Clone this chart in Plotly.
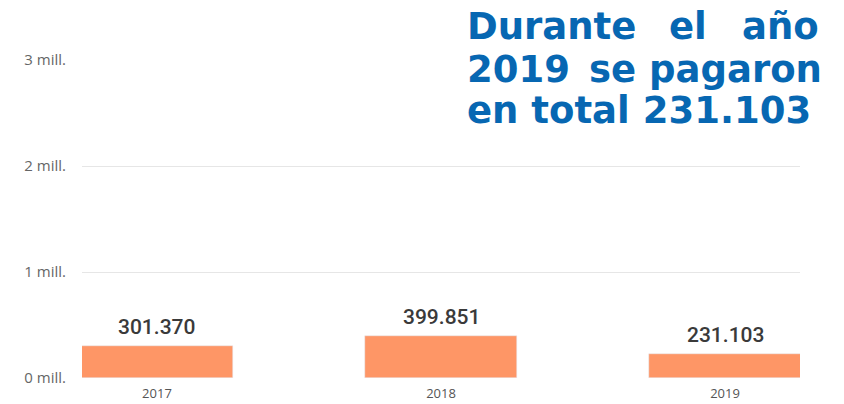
import plotly.graph_objects as go

years = ["2017", "2018", "2019"]
payments = [301370, 399851, 231103]
ytick_vals = [0, 1000000, 2000000, 3000000]
ytick_text = ["0 mill.", "1 mill.", "2 mill.", "3 mill."]
headline_lines = [["Durante", "el", "año"], ["2019", "se", "pagaron"], ["en total 231.103"]]

BAR = "#FE9666"
BLUE = "#0767B2"

fig = go.Figure()
fig.add_trace(go.Bar(x=list(range(len(years))), y=payments, marker_color=BAR,
                     width=0.535, hoverinfo="skip"))

for i, v in enumerate(payments):
    fig.add_annotation(x=i, y=v, xref="x", yref="y", text=f"{v:,}".replace(",", "."),
                       showarrow=False, yanchor="bottom", yshift=5,
                       font=dict(family="Roboto, Open Sans, sans-serif", size=21,
                                 color="#3a3a3a", weight=500))

# justified headline (word positions in pixels, plot area 82..800)
L, W = 82, 718
word_pos = [[(465, "left"), (667, "left"), (821, "right")],
            [(465, "left"), (587, "left"), (824, "right")],
            [(465, "left")]]
line_y = [26, 69, 111]
for words, xs, py in zip(headline_lines, word_pos, line_y):
    for w, (px, anc) in zip(words, xs):
        fig.add_annotation(x=(px - L) / W, y=py, xref="paper", yref="paper",
                           text=f"<b>{w}</b>", showarrow=False, xanchor=anc,
                           yanchor="middle",
                           font=dict(family="DejaVu Sans", size=37, color=BLUE))

fig.update_layout(
    width=844, height=404,
    margin=dict(l=82, r=44, t=60, b=26),
    paper_bgcolor="white", plot_bgcolor="white",
    showlegend=False, bargap=0,
    xaxis=dict(range=[-0.264, 2.264], tickvals=list(range(len(years))), ticktext=years,
               showgrid=False, zeroline=False, showline=False, ticks="",
               automargin=False, ticklabelstandoff=6,
               tickfont=dict(family="Open Sans, sans-serif", size=13, color="#555555")),
    yaxis=dict(range=[0, 3000000], tickvals=ytick_vals, ticktext=ytick_text,
               showgrid=True, gridcolor="#E6E6E6", gridwidth=1, zeroline=False,
               showline=False, ticks="", ticklabelstandoff=15, automargin=False,
               tickfont=dict(family="Open Sans, sans-serif", size=15, color="#666666")),
)

# convert headline y from pixel (top-origin) to paper
plot_h = 404 - 60 - 26
for a in fig.layout.annotations:
    if a.xref == "paper":
        a.y = (404 - 26 - a.y) / plot_h

fig.write_html("out.html", config={"displayModeBar": False},
               post_script="document.body.style.margin='0';")
